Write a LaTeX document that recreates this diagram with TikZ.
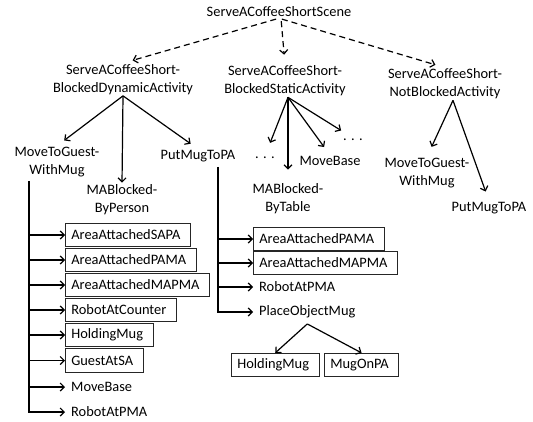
\documentclass[tikz,border=0pt]{standalone}
\usepackage{fontspec}
\setmainfont{Carlito}
\usetikzlibrary{arrows.meta}
\begin{document}
\begin{tikzpicture}[x=1pt,y=-1pt,
    lbl/.style={font=\fontsize{14.4}{18}\selectfont,align=center,inner sep=1pt},
    item/.style={font=\fontsize{14.4}{18}\selectfont,anchor=west,inner xsep=6pt,inner ysep=0pt,minimum height=23.5pt},
    box/.style={item,draw=black!85,line width=0.7pt,execute at end node={\hspace*{4pt}}},
    arr/.style={-{Straight Barb[length=4pt,width=8pt]},line width=1.2pt,shorten >=9pt},
    dasharr/.style={arr,dash pattern=on 6pt off 4pt,shorten <=3pt,shorten >=10pt},
    brk/.style={-{Straight Barb[length=4pt,width=8pt]},line width=1.2pt}]
  \useasboundingbox (0,0) rectangle (533,422);

  % scene and activities
  \node[lbl] (root) at (279,12) {ServeACoffeeShortScene};
  \node[lbl] (dyn) at (123,79.5) {ServeACoffeeShort-\\BlockedDynamicActivity};
  \node[lbl] (stat) at (285,81) {ServeACoffeeShort-\\BlockedStaticActivity};
  \node[lbl] (notb) at (445,84) {ServeACoffeeShort-\\NotBlockedActivity};
  \draw[dasharr] (root.south) -- (dyn.north);
  \draw[dasharr] ([xshift=2pt]root.south) -- (stat.north);
  \draw[dasharr] (root.south) -- (notb.north);

  % blocked dynamic
  \node[lbl] (guest1) at (57,162) {MoveToGuest-\\WithMug};
  \node[lbl] (person) at (122,200) {MABlocked-\\ByPerson};
  \node[lbl] (putmug1) at (198,156) {PutMugToPA};
  \draw[arr] (dyn.south) -- (guest1.north);
  \draw[arr,shorten >=1pt] (dyn.south) -- (person.north);
  \draw[arr] (dyn.south) -- (putmug1.north);

  \coordinate (bar1) at (29,181);
  \node[box] (sapa) at (65,235) {AreaAttachedSAPA};
  \node[box] (pama1) at (65,260) {AreaAttachedPAMA};
  \node[box] (mapma1) at (65,285) {AreaAttachedMAPMA};
  \node[box] (counter) at (65,310) {RobotAtCounter};
  \node[box] (holding1) at (65,335) {HoldingMug};
  \node[box] (guestsa) at (65,360.5) {GuestAtSA};
  \node[item] (movebase1) at (65,387) {MoveBase};
  \node[item] (pma1) at (65,412) {RobotAtPMA};
  \draw[brk] (bar1 |- sapa.west) -- (sapa.west);
  \draw[brk] (bar1 |- pama1.west) -- (pama1.west);
  \draw[brk] (bar1 |- mapma1.west) -- (mapma1.west);
  \draw[brk] (bar1 |- counter.west) -- (counter.west);
  \draw[brk] (bar1 |- holding1.west) -- (holding1.west);
  \draw[brk] (bar1 |- guestsa.west) -- (guestsa.west);
  \draw[brk] (bar1 |- movebase1.west) -- (movebase1.west);
  \draw[brk] (bar1) |- (pma1.west);

  \coordinate (bar2) at (218,167);
  \node[box] (pama2) at (253,239) {AreaAttachedPAMA};
  \node[box] (mapma2) at (253,263) {AreaAttachedMAPMA};
  \node[item] (pma2) at (253,287) {RobotAtPMA};
  \node[item] (place) at (253,312) {PlaceObjectMug};
  \draw[brk] (bar2 |- pama2.west) -- (pama2.west);
  \draw[brk] (bar2 |- mapma2.west) -- (mapma2.west);
  \draw[brk] (bar2 |- pma2.west) -- (pma2.west);
  \draw[brk] (bar2) |- (place.west);

  \node[box] (holding2) at (231,365) {HoldingMug};
  \node[box] (mugonpa) at (324,365) {MugOnPA};
  \draw[arr,shorten >=0pt] (place.south) -- (holding2.north);
  \draw[arr,shorten >=0pt] (place.south) -- (mugonpa.north);

  % blocked static
  \node[lbl] (dots1) at (265,158) {. . .};
  \node[lbl] (table) at (288,199) {MABlocked-\\ByTable};
  \node[lbl] (movebase2) at (330,161) {MoveBase};
  \node[lbl] (dots2) at (353,140) {. . .};
  \draw[arr,shorten >=14pt] ([xshift=3pt]stat.south) -- (dots1.north);
  \draw[arr,shorten >=13pt] ([xshift=3pt]stat.south) -- (table.north);
  \draw[arr,shorten >=10pt] ([xshift=3pt]stat.south) -- (movebase2.north);
  \draw[arr,shorten >=14pt] ([xshift=3pt]stat.south) -- (dots2.north);

  % not blocked
  \node[lbl] (guest2) at (427,173) {MoveToGuest-\\WithMug};
  \node[lbl] (putmug2) at (489,208) {PutMugToPA};
  \draw[arr,shorten >=11pt] ([xshift=8pt]notb.south) -- (guest2.north);
  \draw[arr,shorten >=10pt] ([xshift=8pt]notb.south) -- (putmug2.north);
\end{tikzpicture}
\end{document}
